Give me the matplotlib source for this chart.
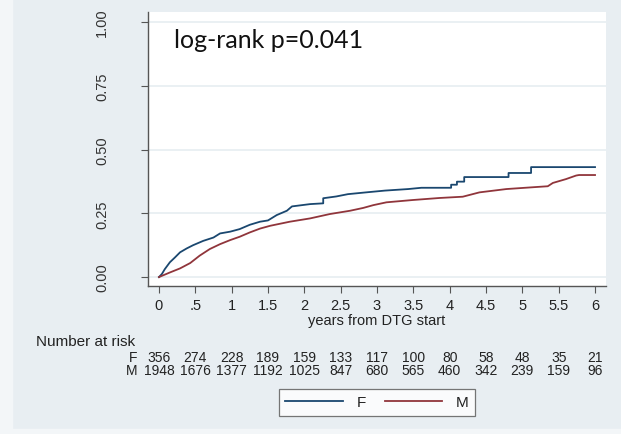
import numpy as np
import matplotlib
matplotlib.use("Agg")
import matplotlib.pyplot as plt
from matplotlib.patches import Rectangle
import matplotlib.transforms as mtransforms

# Kaplan-Meier failure curves (years, cumulative failure);
# repeated times are the visible vertical jumps
f_time = [0, 0.04, 0.08, 0.15, 0.22, 0.29, 0.38, 0.47, 0.61, 0.75, 0.84, 0.98, 1.11, 1.25, 1.39,
          1.50, 1.62, 1.76, 1.83, 2.08, 2.26, 2.26, 2.44, 2.60, 2.85, 3.11, 3.43, 3.61, 4.02,
          4.02, 4.10, 4.10, 4.20, 4.20, 4.81, 4.81, 5.12, 5.12, 6.0]
f_fail = [0, 0.012, 0.031, 0.058, 0.077, 0.097, 0.112, 0.125, 0.142, 0.155, 0.171, 0.178, 0.188, 0.205, 0.217,
          0.222, 0.243, 0.260, 0.277, 0.286, 0.289, 0.309, 0.316, 0.325, 0.332, 0.339, 0.345, 0.350, 0.350,
          0.362, 0.362, 0.374, 0.374, 0.392, 0.392, 0.408, 0.408, 0.431, 0.431]

m_time = [0, 0.15, 0.29, 0.43, 0.56, 0.70, 0.84, 0.98, 1.11, 1.25, 1.39, 1.53, 1.80, 2.08, 2.35,
          2.63, 2.81, 2.95, 3.13, 3.49, 3.86, 4.18, 4.41, 4.78, 5.14, 5.35, 5.42, 5.60, 5.74, 5.78, 6.0]
m_fail = [0, 0.018, 0.034, 0.055, 0.084, 0.110, 0.129, 0.145, 0.158, 0.175, 0.190, 0.201, 0.217, 0.230, 0.247,
          0.260, 0.271, 0.282, 0.293, 0.302, 0.310, 0.315, 0.332, 0.345, 0.352, 0.356, 0.369, 0.384, 0.398, 0.400, 0.400]

risk_times = np.arange(0, 6.01, 0.5)
risk_f = [356, 274, 228, 189, 159, 133, 117, 100, 80, 58, 48, 35, 21]
risk_m = [1948, 1676, 1377, 1192, 1025, 847, 680, 565, 460, 342, 239, 159, 96]

x_ticks = risk_times
x_labels = ["0", ".5", "1", "1.5", "2", "2.5", "3", "3.5", "4", "4.5", "5", "5.5", "6"]
y_ticks = [0, 0.25, 0.5, 0.75, 1.0]
y_labels = ["0.00", "0.25", "0.50", "0.75", "1.00"]

navy = "#1a476f"
maroon = "#90353b"
bg = "#e8eef2"
ink = "#222222"
W, H = 621, 435

plt.rcParams['font.family'] = ['Liberation Sans', 'DejaVu Sans']

fig = plt.figure(figsize=(W / 100, H / 100), dpi=100, facecolor=bg)
# lighter strips at left and bottom edge of the screenshot
fig.patches.append(Rectangle((0, 0), 12 / W, 1, transform=fig.transFigure, color="#f3f6f8", zorder=0))
fig.patches.append(Rectangle((0, 0), 1, 5 / H, transform=fig.transFigure, color="#f3f6f8", zorder=0))

ax = fig.add_axes([148 / W, (H - 287) / H, (606 - 148) / W, (287 - 13) / H])
ax.set_facecolor("white")

ax.plot(f_time, f_fail, color=navy, lw=1.3, label="F")
ax.plot(m_time, m_fail, color=maroon, lw=1.3, label="M")

ax.set_xlim(-0.151, 6.151)
ax.set_ylim(-0.035, 1.039)
ax.set_xticks(x_ticks)
ax.set_xticklabels(x_labels)
ax.set_yticks(y_ticks)
ax.set_yticklabels(y_labels, rotation=90, va="center")
ax.grid(axis="y", color="#e6eef1", lw=1.2)
ax.set_axisbelow(True)

for s in ["top", "right"]:
    ax.spines[s].set_visible(False)
for s in ["left", "bottom"]:
    ax.spines[s].set_color("#555555")
    ax.spines[s].set_linewidth(1.0)
ax.tick_params(direction="out", length=5, color="#555555", labelsize=10.5, labelcolor="#333333")
ax.tick_params(axis="y", pad=23)
ax.tick_params(axis="x", pad=4)
for lab in ax.get_xticklabels():
    lab.set_color(ink)

ax.set_xlabel("years from DTG start", fontsize=10.5, color=ink, labelpad=0)

ax.text(0.206, 0.902, "log-rank p=0.041", fontsize=18, family=["Lato", "DejaVu Sans"],
        color="#111111", va="baseline", ha="left")

# number-at-risk table below the axis
row_f, row_m = 1 - 358 / H, 1 - 371 / H
trans = mtransforms.blended_transform_factory(ax.transData, fig.transFigure)
fig.text(36 / W, 1 - 342 / H, "Number at risk", fontsize=11, color=ink, va="center", ha="left")
fig.text(137 / W, row_f, "F", fontsize=10, color=ink, va="center", ha="right")
fig.text(137 / W, row_m, "M", fontsize=10, color=ink, va="center", ha="right")
for t, nf, nm in zip(risk_times, risk_f, risk_m):
    ax.text(t, row_f, str(nf), transform=trans, fontsize=10, color=ink, ha="center", va="center")
    ax.text(t, row_m, str(nm), transform=trans, fontsize=10, color=ink, ha="center", va="center")

leg = ax.legend(loc="center", bbox_to_anchor=(377 / W, 1 - 403.5 / H), bbox_transform=fig.transFigure,
                ncol=2, frameon=True, fancybox=False, fontsize=11, handlelength=3.75,
                columnspacing=1.25, handletextpad=0.9, borderpad=0.45)
leg.get_frame().set_edgecolor("#555555")
leg.get_frame().set_linewidth(0.9)
for txt in leg.get_texts():
    txt.set_color(ink)

fig.savefig("out.png", dpi=100, facecolor=bg)
